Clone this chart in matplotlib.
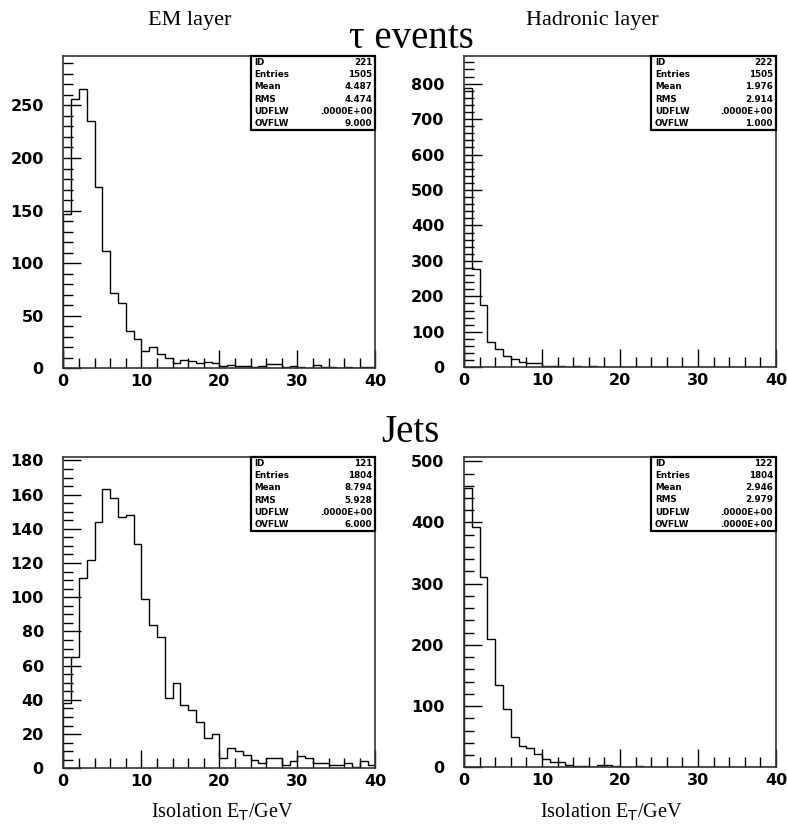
import numpy as np
import matplotlib
matplotlib.use("Agg")
import matplotlib.pyplot as plt
from matplotlib.patches import Rectangle
from matplotlib.ticker import MultipleLocator

# ---------------- data ----------------
edges = list(range(0, 41))

tau_em = [147, 256, 266, 235, 172, 112, 72, 62, 35, 28,
          16, 20, 14, 10, 5, 8, 7, 5, 6, 5,
          2, 3, 2, 2, 1, 2, 4, 4, 1, 2,
          1, 0, 3, 1, 1, 0, 1, 0, 1, 1]
tau_had = [787, 278, 176, 72, 52, 32, 23, 14, 12, 11,
           4, 5, 3, 2, 3, 2, 3, 2, 1, 2,
           1, 1, 0, 1, 1, 0, 1, 0, 1, 0,
           1, 0, 0, 1, 0, 1, 0, 0, 0, 0]
jet_em = [38, 65, 111, 122, 144, 163, 158, 147, 148, 131,
          99, 84, 77, 41, 50, 37, 34, 27, 18, 20,
          6, 12, 10, 8, 5, 3, 6, 6, 2, 4,
          7, 6, 3, 3, 2, 2, 3, 1, 4, 2]
jet_had = [457, 393, 311, 210, 134, 96, 50, 34, 32, 22,
           14, 8, 8, 4, 2, 2, 1, 3, 4, 2,
           1, 1, 2, 1, 1, 0, 1, 1, 0, 1,
           0, 1, 0, 0, 1, 0, 1, 0, 0, 0]

stat_keys = ["ID", "Entries", "Mean", "RMS", "UDFLW", "OVFLW"]
stats_tau_em = ["221", "1505", "4.487", "4.474", ".0000E+00", "9.000"]
stats_tau_had = ["222", "1505", "1.976", "2.914", ".0000E+00", "1.000"]
stats_jet_em = ["121", "1804", "8.794", "5.928", ".0000E+00", "6.000"]
stats_jet_had = ["122", "1804", "2.946", "2.979", ".0000E+00", ".0000E+00"]

ymax = [297, 878, 182, 507]
ymajor = [50, 100, 20, 100]
yminor = [10, 20, 5, 20]

# ---------------- figure ----------------
W, H = 787, 832
fig = plt.figure(figsize=(W / 100, H / 100), dpi=100)

def rect(x0, y0, x1, y1):
    return [x0 / W, 1 - y1 / H, (x1 - x0) / W, (y1 - y0) / H]

axes_px = [(63.3, 56, 375.3, 368.3), (464, 56, 776, 367.3),
           (63.3, 457, 375.3, 768.3), (464, 457, 776, 767.3)]
datas = [tau_em, tau_had, jet_em, jet_had]
statss = [stats_tau_em, stats_tau_had, stats_jet_em, stats_jet_had]

tickfont = dict(family="DejaVu Sans", weight="bold", size=11.5)

for i, (px, d, st) in enumerate(zip(axes_px, datas, statss)):
    ax = fig.add_axes(rect(*px))
    ax.stairs(d, edges, color="black", linewidth=1.0, baseline=0)
    ax.set_xlim(0, 40)
    ax.set_ylim(0, ymax[i])
    ax.xaxis.set_major_locator(MultipleLocator(10))
    ax.xaxis.set_minor_locator(MultipleLocator(2))
    ax.yaxis.set_major_locator(MultipleLocator(ymajor[i]))
    ax.yaxis.set_minor_locator(MultipleLocator(yminor[i]))
    ax.tick_params(which="both", direction="in", top=False, right=False,
                   color="black", width=1.0)
    ax.tick_params(which="major", length=13)
    ax.tick_params(which="minor", length=7)
    ax.tick_params(axis="y", which="major", pad=14)
    ax.tick_params(axis="x", which="major", pad=4)
    for lab in ax.get_xticklabels() + ax.get_yticklabels():
        lab.set_fontfamily(tickfont["family"])
        lab.set_fontweight(tickfont["weight"])
        lab.set_fontsize(tickfont["size"])
    for s in ax.spines.values():
        s.set_linewidth(1.2)
        s.set_color("#333333")

    # stats box
    bx0, by0 = 0.60, 0.763
    ax.add_patch(Rectangle((bx0, by0), 1 - bx0, 1 - by0, transform=ax.transAxes,
                           fill=False, edgecolor="black", linewidth=1.6,
                           zorder=5, clip_on=False))
    rowh = (1 - by0) / 6
    for r, (k, v) in enumerate(zip(stat_keys, st)):
        yy = 1 - rowh * (r + 0.5)
        ax.text(bx0 + 0.012, yy, k, transform=ax.transAxes, ha="left",
                va="center", fontsize=6.3, fontweight="bold",
                family="DejaVu Sans")
        ax.text(0.99, yy, v, transform=ax.transAxes, ha="right",
                va="center", fontsize=6.3, fontweight="bold",
                family="DejaVu Sans")

serif = "Liberation Serif"
fig.text(190 / W, 1 - 20 / H, "EM layer", ha="center", va="center",
         family=serif, fontsize=16)
fig.text(592 / W, 1 - 20 / H, "Hadronic layer", ha="center", va="center",
         family=serif, fontsize=16)
fig.text(411 / W, 1 - 38 / H, "τ events", ha="center", va="center",
         family=[serif, "DejaVu Serif"], fontsize=28)
fig.text(410 / W, 1 - 432 / H, "Jets", ha="center", va="center",
         family=serif, fontsize=28)
fig.text(222 / W, 1 - 812 / H, r"Isolation E$_\mathrm{T}$/GeV", ha="center",
         va="center", family=serif, fontsize=14.5)
fig.text(611 / W, 1 - 812 / H, r"Isolation E$_\mathrm{T}$/GeV", ha="center",
         va="center", family=serif, fontsize=14.5)

fig.savefig("out.png", dpi=100)
